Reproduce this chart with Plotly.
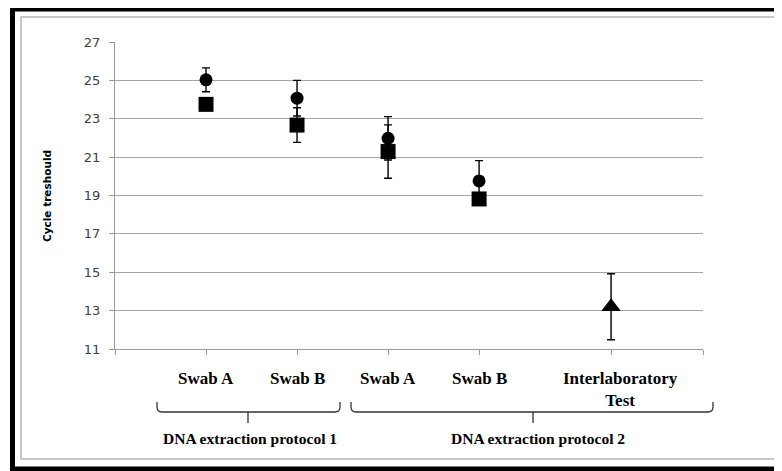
import plotly.graph_objects as go

# ---- data ----
categories = ["Swab A", "Swab B", "Swab A", "Swab B", "Interlaboratory<br>Test"]
circle_vals = [25.03, 24.07, 21.98, 19.76]
circle_err = [0.62, 0.93, 1.13, 1.06]
square_vals = [23.75, 22.67, 21.29, 18.82]
square_err = [0.3, 0.9, 1.39, 0.3]
triangle_vals = [13.2]
triangle_err = [1.72]
group_labels = ["DNA extraction protocol 1", "DNA extraction protocol 2"]
y_ticks = [11, 13, 15, 17, 19, 21, 23, 25, 27]

# ---- layout constants ----
x_pos = [1, 2, 3, 4, 5.45]
x_range = [0, 6.46]
W, H = 782, 471
OFF = 8  # page body margin
L, R, T, B = 115, 703, 42, 349


def px_x(p):
    return (p - L) / (R - L)


def px_y(p):
    return (B - p) / (B - T)


fig = go.Figure()

err_style = dict(type="data", color="black", thickness=1.4, width=4)

fig.add_trace(go.Scatter(
    x=x_pos[:4], y=circle_vals, mode="markers",
    marker=dict(symbol="circle", size=13, color="black"),
    error_y=dict(array=circle_err, **err_style), showlegend=False))
fig.add_trace(go.Scatter(
    x=x_pos[:4], y=square_vals, mode="markers",
    marker=dict(symbol="square", size=15, color="black"),
    error_y=dict(array=square_err, **err_style), showlegend=False))
fig.add_trace(go.Scatter(
    x=x_pos[4:], y=triangle_vals, mode="markers",
    marker=dict(symbol="triangle-up", size=17, color="black"),
    error_y=dict(array=triangle_err, **err_style), showlegend=False))

annotations = []
label_font = dict(family="Liberation Serif", size=17, color="black")
for xp, cat in zip(x_pos, categories):
    annotations.append(dict(
        x=xp + (0.1 if "Inter" in cat else 0), y=px_y(367), xref="x", yref="paper",
        text="<b>" + cat + "</b>", showarrow=False, yanchor="top", xanchor="center",
        font=label_font, align="center"))

braces = [(157, 340, 248), (351, 713, 533)]
group_centers = [250, 538]
shapes = []
yt, yb, yc, r = 402, 412, 423, 5
for (xa, xb, cx) in braces:
    path = (
        f"M {px_x(xa)},{px_y(yt)} L {px_x(xa)},{px_y(yb - r)} "
        f"Q {px_x(xa)},{px_y(yb)} {px_x(xa + r)},{px_y(yb)} "
        f"L {px_x(xb - r)},{px_y(yb)} "
        f"Q {px_x(xb)},{px_y(yb)} {px_x(xb)},{px_y(yb - r)} "
        f"L {px_x(xb)},{px_y(yt)} "
        f"M {px_x(cx)},{px_y(yb)} L {px_x(cx)},{px_y(yc)}"
    )
    shapes.append(dict(type="path", path=path, xref="paper", yref="paper",
                       line=dict(color="#333333", width=1.3)))

for gc, gl in zip(group_centers, group_labels):
    annotations.append(dict(
        x=px_x(gc), y=px_y(438), xref="paper", yref="paper",
        text="<b>" + gl + "</b>", showarrow=False, yanchor="middle", xanchor="center",
        font=dict(family="Liberation Serif", size=15.5, color="black")))

annotations.append(dict(
    x=px_x(47), y=px_y(196), xref="paper", yref="paper",
    text="<b>Cycle treshould</b>", showarrow=False, textangle=-90,
    xanchor="center", yanchor="middle",
    font=dict(family="DejaVu Sans", size=10.5, color="black")))

# frames
shapes.append(dict(type="rect", xref="paper", yref="paper",
                   x0=px_x(21), x1=px_x(800), y0=px_y(17), y1=px_y(459),
                   line=dict(color="#b5b5b5", width=1.5)))
shapes.append(dict(type="rect", xref="paper", yref="paper",
                   x0=px_x(12.5), x1=px_x(805), y0=px_y(9), y1=px_y(469),
                   line=dict(color="black", width=5)))

fig.update_layout(
    width=W - OFF, height=H - OFF,
    margin=dict(l=L - OFF, r=W - R, t=T - OFF, b=H - B, pad=0),
    paper_bgcolor="white", plot_bgcolor="white",
    shapes=shapes, annotations=annotations,
    xaxis=dict(range=x_range, showgrid=False, zeroline=False,
               showline=True, linecolor="#999999", linewidth=1.2,
               tickmode="array", tickvals=[0] + x_pos + [x_range[1]],
               ticks="outside", ticklen=5, tickcolor="#999999",
               showticklabels=False),
    yaxis=dict(range=[11, 27], tickvals=y_ticks, showgrid=True,
               gridcolor="#a6a6a6", gridwidth=1.2, zeroline=False,
               showline=True, linecolor="#999999", linewidth=1.2,
               ticks="outside", ticklen=5, tickcolor="#999999",
               ticklabelstandoff=6,
               tickfont=dict(family="DejaVu Sans", size=13, color="#404040")),
)

fig.write_html("out.html")
